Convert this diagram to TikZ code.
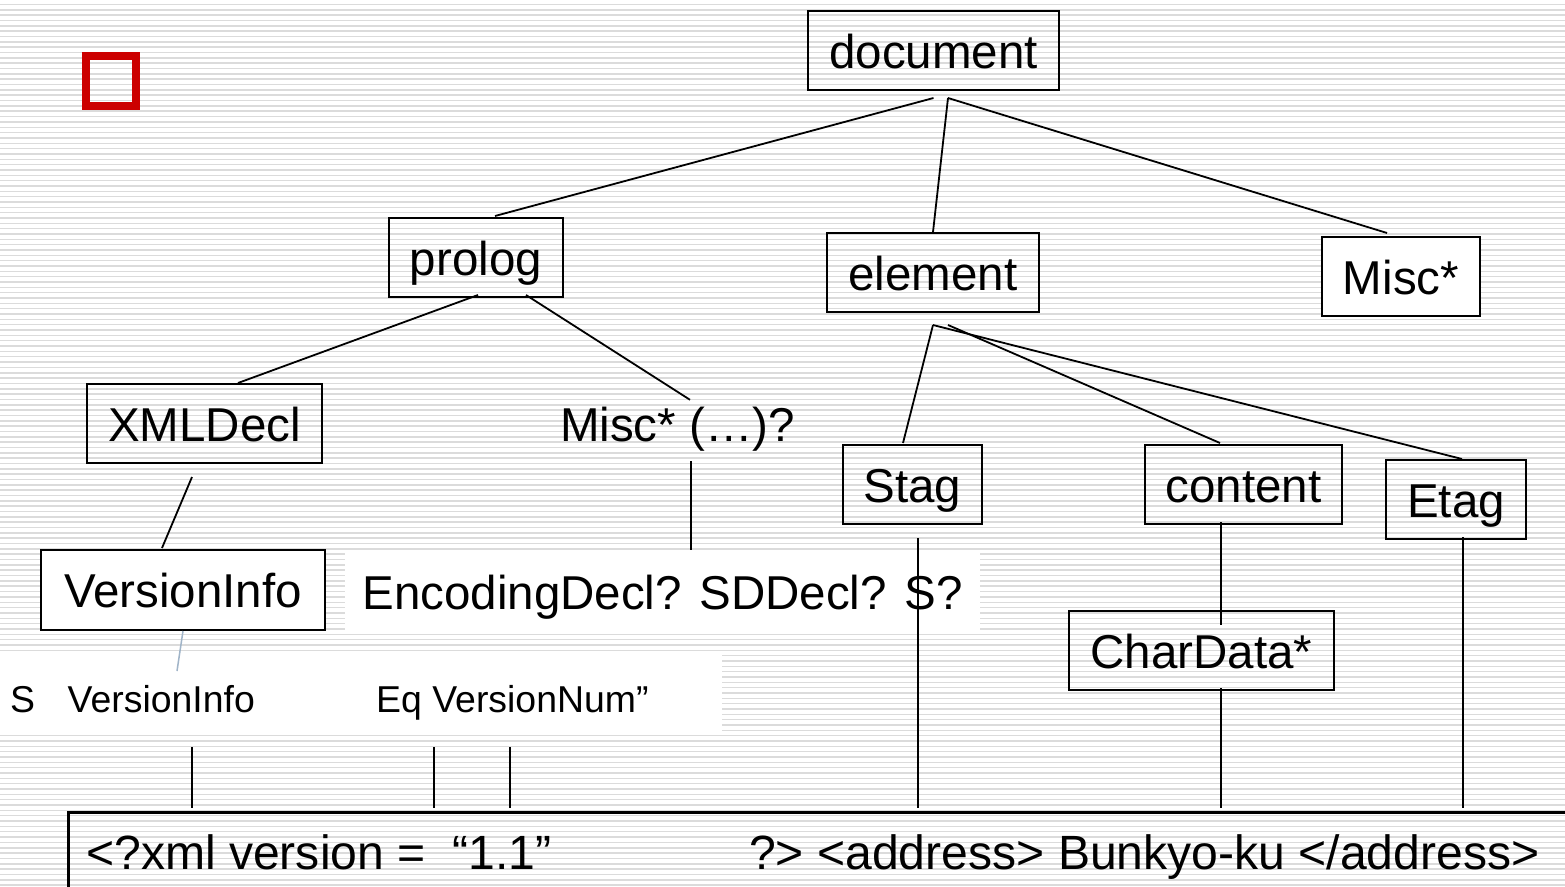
\documentclass[tikz,border=0pt]{standalone}
\usepackage{fontspec}
\setmainfont{Liberation Sans}
\usetikzlibrary{calc}

\begin{document}
\begin{tikzpicture}[x=1pt,y=-1pt,
  big/.style={font=\fontsize{47.5}{57}\selectfont},
  srcfont/.style={font=\fontsize{48.1}{58}\selectfont},
  small/.style={font=\fontsize{37.4}{44}\selectfont},
  treebox/.style={draw=black,line width=2pt,big,inner sep=0pt,
    text height=45pt,text depth=10pt,minimum height=79pt},
  label/.style={big,inner sep=0pt,text height=45pt,text depth=10pt},
  tiny/.style={small,inner sep=0pt,text height=30pt,text depth=8pt},
  link/.style={draw=black,line width=1.8pt},
  softlink/.style={draw={rgb,255:red,160;green,180;blue,200},line width=1.5pt},
  stripe/.style={draw=black!14,line width=1.5pt},
]
\useasboundingbox (0,0) rectangle (1565,886);
\clip (0,0) rectangle (1565,886);

% striped backdrop
\fill[white] (0,0) rectangle (1565,886);
\foreach \k in {0,...,166}
  \draw[stripe] (0,{4.5+5.337*\k}) -- (1565,{4.5+5.337*\k});

% bullet square
\node[draw={rgb,255:red,204;green,0;blue,0},line width=7.6pt,minimum size=50pt,inner sep=0pt] (bullet) at (111.2,81.2) {};

% white panels behind the free-standing texts
\node[fill=white,label,minimum width=635pt,minimum height=77pt] (enc) at (662.5,591.5) {EncodingDecl? SDDecl? S?};
\node[fill=white,inner sep=0pt,minimum width=722pt,minimum height=80pt] (rowbg) at (361,695) {};
\node[tiny,anchor=base west] (s) at (10,712) {S};
\node[tiny,anchor=base west] (vi) at (67.5,712) {VersionInfo};
\node[tiny,anchor=base west] (eqvn) at (376,712) {Eq VersionNum”};

% tree nodes
\node[treebox,minimum width=251pt] (doc) at (933.5,50.5) {document};
\node[treebox,minimum width=174pt] (prolog) at (476,257.5) {prolog};
\node[treebox,minimum width=212pt] (element) at (933,272.5) {element};
\node[treebox,minimum width=158pt,fill=white] (misc) at (1401,276.5) {Misc*};
\node[treebox,minimum width=235pt] (xmldecl) at (204.5,423.5) {XMLDecl};
\node[label] (miscopt) at (677.5,423.5) {Misc* (…)?};
\node[treebox,minimum width=139pt] (stag) at (912.5,484.5) {Stag};
\node[treebox,minimum width=197pt] (content) at (1243.5,484.5) {content};
\node[treebox,minimum width=140pt] (etag) at (1456,499.5) {Etag};
\node[treebox,minimum width=284pt,minimum height=80pt,fill=white] (vinfo) at (183,590) {VersionInfo};
\node[treebox,minimum width=265pt] (chardata) at (1201.5,650.5) {CharData*};

% source line box
\node[draw=black,line width=3pt,inner sep=0pt,anchor=north west,minimum width=1600pt,minimum height=120pt] (src) at (67,811) {};
\node[srcfont,inner sep=0pt,anchor=base west] (srcA) at (86,869) {<?xml version =~~“1.1”};
\node[srcfont,inner sep=0pt,anchor=base west] (srcB) at (749,869) {?> <address> Bunkyo-ku </address>};

% connectors
\draw[link] ($(doc.south)+(0,7)$) -- ($(prolog.north)+(19,-1)$);
\draw[link] ($(doc.south)+(14.5,7)$) -- (element.north);
\draw[link] ($(doc.south)+(14.5,7)$) -- ($(misc.north)+(-14,-3)$);
\draw[link] ($(prolog.south)+(2,-3)$) -- ($(xmldecl.north)+(33.5,0)$);
\draw[link] ($(prolog.south)+(50,-3)$) -- ($(miscopt.north)+(12.5,4)$);
\draw[link] ($(miscopt.south)+(13.5,10)$) -- ($(enc.north)+(28.5,-3)$);
\draw[link] ($(element.south)+(0,12)$) -- ($(stag.north)+(-9.5,-1)$);
\draw[link] ($(element.south)+(15,12)$) -- ($(content.north)+(-23.5,-1)$);
\draw[link] ($(element.south)+(0,12)$) -- ($(etag.north)+(6,0)$);
\draw[link] ($(xmldecl.south)+(-12.5,13)$) -- ($(vinfo.north)+(-21,-1)$);
\draw[softlink] (vinfo.south) -- ($(vi.base west)+(109.5,-41)$);
\draw[link] ($(content.south)+(-22.5,-3)$) -- ($(chardata.north)+(19.5,15)$);

% connectors down to the source line
\draw[link] ($(vi.base west)+(124.5,35)$) -- ($(vi.base west |- src.north)+(124.5,-3)$);
\draw[link] ($(eqvn.base west)+(58,35)$) -- ($(eqvn.base west |- src.north)+(58,-3)$);
\draw[link] ($(eqvn.base west)+(134,35)$) -- ($(eqvn.base west |- src.north)+(134,-3)$);
\draw[link] ($(stag.south)+(5.5,13)$) -- ($(stag.south |- src.north)+(5.5,-3)$);
\draw[link] ($(chardata.south)+(19.5,-3)$) -- ($(chardata.south |- src.north)+(19.5,-3)$);
\draw[link] ($(etag.south)+(7,-3)$) -- ($(etag.south |- src.north)+(7,-3)$);
\end{tikzpicture}
\end{document}
